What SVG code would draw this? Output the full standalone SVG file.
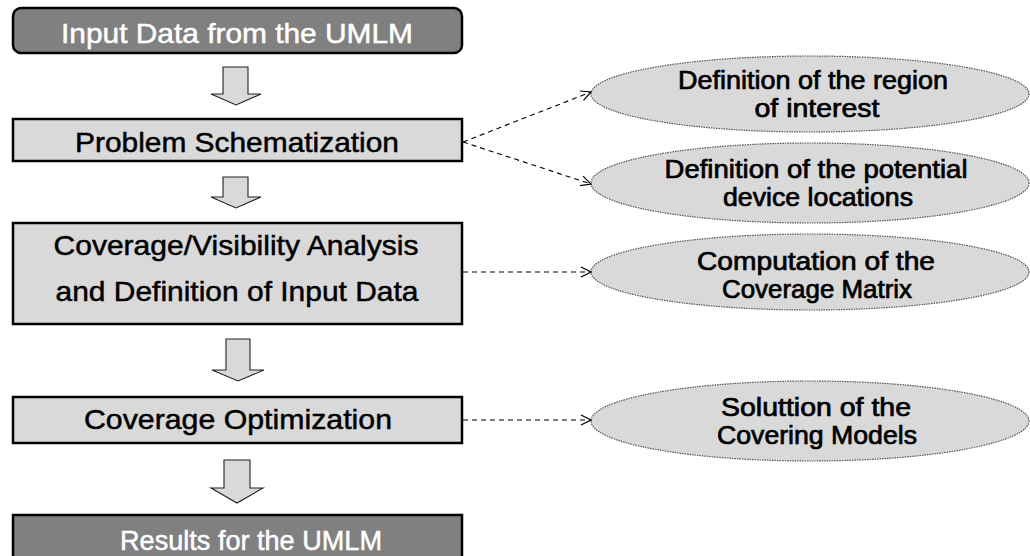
<svg xmlns="http://www.w3.org/2000/svg" width="1030" height="556" viewBox="0 0 1030 556">
  <defs>
    <marker id="open-arrow" viewBox="0 0 12 12" refX="11" refY="6" markerWidth="12" markerHeight="12" markerUnits="userSpaceOnUse" orient="auto">
      <path d="M1,1 L11,6 L1,11" fill="none" stroke="#000" stroke-width="1.2"/>
    </marker>
  </defs>
  <style>
    .step { fill: #d9d9d9; stroke: #000; stroke-width: 2.5; }
    .term { fill: #808080; stroke: #000; stroke-width: 2.5; }
    .task { fill: #d9d9d9; stroke: #555; stroke-width: 1.2; stroke-dasharray: 1.5 1; }
    .flow { fill: #d9d9d9; stroke: #222; stroke-width: 1.1; }
    .link { fill: none; stroke: #000; stroke-width: 1.1; stroke-dasharray: 5 4; }
    .label { font-family: "Liberation Sans", Arial, sans-serif; font-size: 28px; fill: #000; stroke: #000; stroke-width: 0.5; text-anchor: middle; }
    .light { fill: #fff; stroke: #fff; }
    .note { font-family: "Liberation Sans", Arial, sans-serif; font-size: 25px; fill: #000; stroke: #000; stroke-width: 0.7; text-anchor: middle; }
  </style>

  <!-- main process column -->
  <g id="input-data">
    <rect class="term" x="13" y="8" width="449" height="45" rx="8"/>
    <text class="label light" x="237" y="43" textLength="352" lengthAdjust="spacingAndGlyphs">Input Data from the UMLM</text>
  </g>
  <g id="problem-schematization">
    <rect class="step" x="13" y="119" width="449" height="42"/>
    <text class="label" x="237" y="152" textLength="324" lengthAdjust="spacingAndGlyphs">Problem Schematization</text>
  </g>
  <g id="coverage-analysis">
    <rect class="step" x="13" y="223" width="449" height="101"/>
    <text class="label" x="236" y="255" textLength="365" lengthAdjust="spacingAndGlyphs">Coverage/Visibility Analysis</text>
    <text class="label" x="237" y="301" textLength="363" lengthAdjust="spacingAndGlyphs">and Definition of Input Data</text>
  </g>
  <g id="coverage-optimization">
    <rect class="step" x="13" y="397" width="449" height="46"/>
    <text class="label" x="238" y="429" textLength="308" lengthAdjust="spacingAndGlyphs">Coverage Optimization</text>
  </g>
  <g id="results">
    <rect class="term" x="13" y="515" width="449" height="50"/>
    <text class="label light" x="251" y="550" textLength="262" lengthAdjust="spacingAndGlyphs">Results for the UMLM</text>
  </g>

  <!-- side tasks -->
  <g id="region-of-interest">
    <ellipse class="task" cx="810" cy="94" rx="219" ry="38"/>
    <text class="note" x="813" y="89" textLength="270" lengthAdjust="spacingAndGlyphs">Definition of the region</text>
    <text class="note" x="817" y="117" textLength="125" lengthAdjust="spacingAndGlyphs">of interest</text>
  </g>
  <g id="device-locations">
    <ellipse class="task" cx="810" cy="183" rx="219" ry="40"/>
    <text class="note" x="816" y="178" textLength="303" lengthAdjust="spacingAndGlyphs">Definition of the potential</text>
    <text class="note" x="818" y="206" textLength="190" lengthAdjust="spacingAndGlyphs">device locations</text>
  </g>
  <g id="coverage-matrix">
    <ellipse class="task" cx="810" cy="272" rx="219" ry="38"/>
    <text class="note" x="816" y="270" textLength="238" lengthAdjust="spacingAndGlyphs">Computation of the</text>
    <text class="note" x="817" y="298" textLength="190" lengthAdjust="spacingAndGlyphs">Coverage Matrix</text>
  </g>
  <g id="covering-models">
    <ellipse class="task" cx="810" cy="421" rx="219" ry="40"/>
    <text class="note" x="816" y="416" textLength="190" lengthAdjust="spacingAndGlyphs">Soluttion of the</text>
    <text class="note" x="817" y="444" textLength="200" lengthAdjust="spacingAndGlyphs">Covering Models</text>
  </g>

  <!-- connectors: flow arrows and dashed task links -->
  <g id="connectors">
    <path class="flow" d="M223,67 H248 V94 H261 L236,105 L211,94 H223 Z"/>
    <path class="flow" d="M223,177 H248 V197 H261 L236,208 L211,197 H223 Z"/>
    <path class="flow" d="M226,339 H250 V370 H264 L238,381 L212,370 H226 Z"/>
    <path class="flow" d="M224,460 H250 V488 H263 L237,503 L211,488 H224 Z"/>
    <line class="link" x1="463" y1="142" x2="591" y2="92" marker-end="url(#open-arrow)"/>
    <line class="link" x1="463" y1="142" x2="591" y2="184" marker-end="url(#open-arrow)"/>
    <line class="link" x1="463" y1="272" x2="591" y2="272" marker-end="url(#open-arrow)"/>
    <line class="link" x1="463" y1="420" x2="591" y2="420" marker-end="url(#open-arrow)"/>
  </g>
</svg>
